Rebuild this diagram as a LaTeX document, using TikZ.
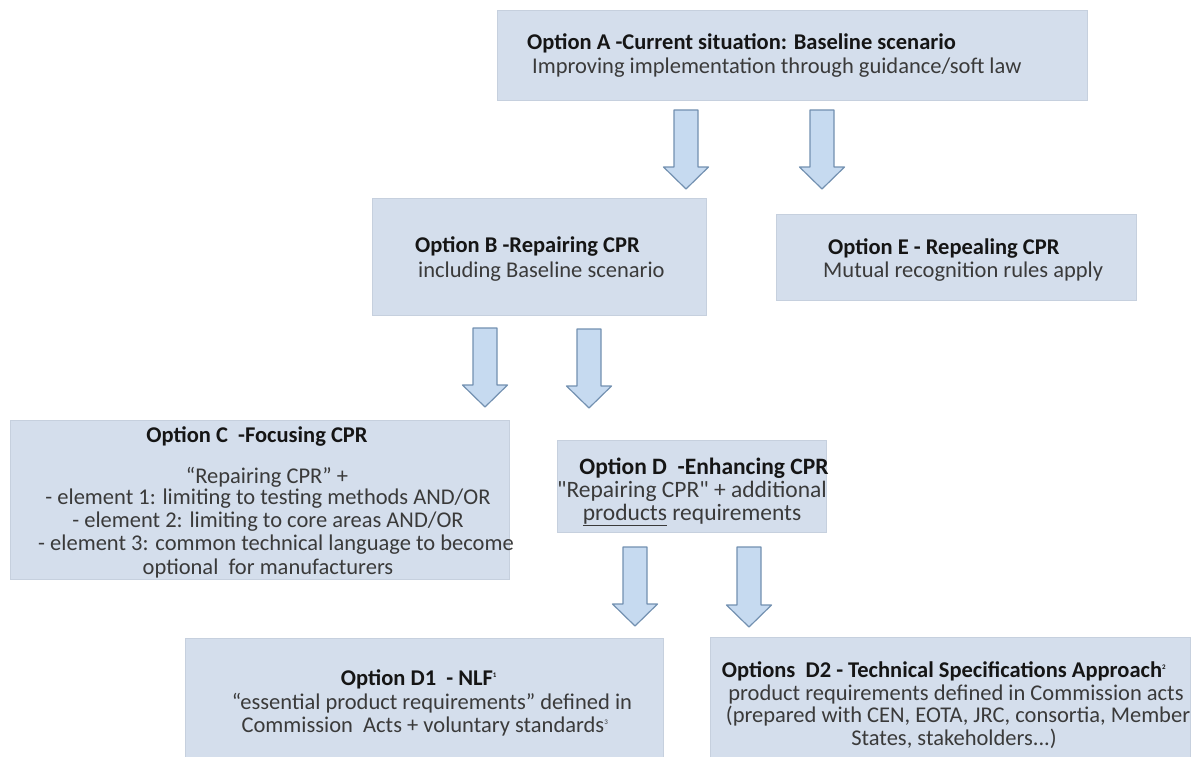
\documentclass[tikz,border=0pt]{standalone}
\usepackage{fontspec}
\setmainfont{Carlito}
\newfontfamily\nomapfont{Carlito}
\definecolor{boxfill}{HTML}{D4DEEC}
\definecolor{boxedge}{HTML}{C6D0DE}
\definecolor{arrfill}{HTML}{C6DAF0}
\definecolor{arredge}{HTML}{7290B0}
\definecolor{txt}{HTML}{3A3A3A}
\definecolor{ttl}{HTML}{151515}
\tikzset{
  optbox/.style={draw=boxedge, fill=boxfill, line width=0.8pt, inner sep=0pt},
  ln/.style={inner sep=0pt, anchor=base, font=\fontsize{22.5}{24}\selectfont, text=txt},
  lnl/.style={ln, anchor=base west},
  tt/.style={font=\fontsize{22.5}{24}\selectfont\bfseries, text=ttl},
  big/.style={font=\fontsize{23.5}{25}\selectfont},
  bigtt/.style={font=\fontsize{23.5}{25}\selectfont\bfseries, text=ttl},
  blockarr/.style={draw=arredge, fill=arrfill, line width=1.2pt, line join=round},
}
\newcommand\blockarrow[3]{%
  \draw[blockarr] (#1-12,#2) -- (#1+12,#2) -- (#1+12,#3-22) -- (#1+22.5,#3-22)
    -- (#1,#3) -- (#1-22.5,#3-22) -- (#1-12,#3-22) -- cycle;}
\newcommand\fnmark[1]{\textsuperscript{\fontsize{7}{7}\selectfont #1}}
\newcommand\sq{{\nomapfont"}}
\begin{document}
\begin{tikzpicture}[x=1pt,y=-1pt]
\useasboundingbox (0,0) rectangle (1202,757);
% boxes
\node[optbox, anchor=north west, minimum width=590, minimum height=90] (A) at (497,10) {};
\node[optbox, anchor=north west, minimum width=334, minimum height=117] (B) at (372,198) {};
\node[optbox, anchor=north west, minimum width=360, minimum height=86] (E) at (776,214) {};
\node[optbox, anchor=north west, minimum width=499, minimum height=159] (C) at (10,420) {};
\node[optbox, anchor=north west, minimum width=269, minimum height=92] (D) at (557,440) {};
\node[optbox, anchor=north west, minimum width=478, minimum height=125] (D1) at (185,638) {};
\node[optbox, anchor=north west, minimum width=480, minimum height=125] (D2) at (710,637) {};
% texts
\node[lnl, tt] (A1) at (527,50) {Option A -Current situation: Baseline scenario};
\node[lnl] (A2) at (532,74) {Improving implementation through guidance/soft law};
\node[lnl, tt] (B1) at (415,252) {Option B -Repairing CPR};
\node[lnl] (B2) at (418,277) {including Baseline scenario};
\node[lnl, tt] (E1) at (828,254) {Option E\ - Repealing CPR};
\node[lnl] (E2) at (823,277) {Mutual recognition rules apply};
\node[ln, tt] (C1) at (257,442) {Option C\ \ -Focusing CPR};
\node[ln] (C2) at (267,483) {“Repairing CPR” +};
\node[ln] (C3) at (268,504) {- element 1: limiting to testing methods AND/OR};
\node[ln] (C4) at (268,527) {- element 2: limiting to core areas AND/OR};
\node[ln] (C5) at (276,550) {- element 3: common technical language to become};
\node[ln] (C6) at (268,574) {optional\ \ for manufacturers};
\node[ln, bigtt] (D1t) at (704,474) {Option D\ \ -Enhancing CPR};
\node[ln, big] (D2t) at (692,497) {\sq Repairing CPR\sq\ + additional};
\node[ln, big] (D3t) at (692,520) {\underline{products} requirements};
\node[ln, tt] (P1) at (419,685) {Option D1\ \ - NLF\fnmark{1}};
\node[ln] (P2) at (432,709) {“essential product requirements” defined in};
\node[ln] (P3) at (425,732) {Commission\ \ Acts + voluntary standards\fnmark{3}};
\node[ln, tt] (Q1) at (944,677) {Options\ \ D2 - Technical Specifications Approach\fnmark{2}};
\node[ln] (Q2) at (956,700) {product requirements defined in Commission acts};
\node[ln] (Q3) at (958,722) {(prepared with CEN, EOTA, JRC, consortia, Member};
\node[ln] (Q4) at (954,745) {States, stakeholders...)};
% block arrows
\blockarrow{686}{110}{189}
\blockarrow{822}{110}{189}
\blockarrow{485}{328}{407}
\blockarrow{589}{329}{408}
\blockarrow{635}{547}{626}
\blockarrow{749}{547}{627}
\end{tikzpicture}
\end{document}
